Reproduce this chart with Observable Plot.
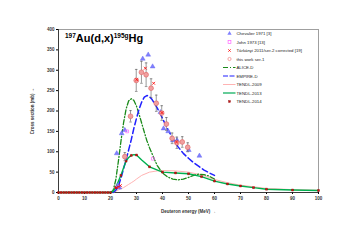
<!DOCTYPE html>
<html><head><meta charset="utf-8">
<script src="https://cdn.jsdelivr.net/npm/d3@7"></script>
<script src="https://cdn.jsdelivr.net/npm/@observablehq/plot@0.6"></script>
<style>body{margin:0;background:#fff}</style>
</head><body><div id="chart"></div>
<script>
const xTicks = [0,10,20,30,40,50,60,70,80,90,100];
const yTicks = [0,50,100,150,200,250,300,350,400];

// Chevalier 1971 [3]
const chevE = [22.4,22.8,23.4,24.3,25.5,32.4,34.5,36.2,39.2,40.4,42.2,44.0,45.6,50.1,54.2];
const chevS = [96,17,12,145,153,328,338,309,197,157,150,128,128,104,90];
// John 1973 [13]
const johnE = [26.4,36.3];
const johnS = [150,83];
// Tárkányi 2011/ser-2 corrected [19]
const tarkE = [22.3,23.0,23.8,30.1,33.4,36.6,39.8,45.4];
const tarkS = [12,14,17,277,305,268,196,124];
// this work ser-1
const workE = [25.5,27.7,29.9,31.9,33.7,35.6,37.6,39.7,41.5,43.7,45.5,47.6,49.7];
const workS = [88,187,275,295,289,256,219,195,168,133,122,124,111];
const workErr = [10,14,27,27,29,23,20,18,16,13,14,13,11];
// ALICE-D
const aliceE = [20,21,22,23,24,25,26,27,28,29,30,31,32,33,34,35,36,37,38,40,42,44,46,48,50,52,54,56,58,60];
const aliceS = [0,5,30,75,125,170,205,225,230,226,212,192,170,148,127,110,95,80,66,48,38,33,31,33,37,42,45,44,40,33];
// EMPIRE-D
const empE = [21,22,23,24,25,26,27,28,29,30,31,32,33,34,35,36,37,38,39,40,42,44,46,48,50,52,54,56,58,60];
const empS = [0,5,15,35,58,80,105,130,158,182,205,222,234,238,235,228,218,207,195,182,155,132,112,96,84,73,64,55,48,42];
// TENDL-2009
const t09E = [21,22,23,24,25,26,27,28,29,30,32,35,38,40,45,50,55,60,65,70,75,80,90,100];
const t09S = [0,3,6,9,12,16,20,24,28,33,42,50,53,54,53,50,43,32,24,18,14,10,7,5.5];
// TENDL-2013
const t13E = [0,20,21,22,23,24,25,26,27,28,29,30,32,35,40,45,50,55,60,65,70,75,80,90,100];
const t13S = [0,0,3,12,27,42,60,77,86,91,93,92,80,63,50,48,46,39,28,21,16,12,8,6,5];
// TENDL-2014
const t14E = [0,1,2,3,4,5,6,7,8,9,10,11,12,13,14,15,16,17,18,19,20,22,24,26,28,30,35,40,45,50,55,60,65,70,75,80,90,100];
const t14S = [0,0,0,0,0,0,0,0,0,0,0,0,0,0,0,0,0,0,0,0,0,12,42,77,91,92,63,50,48,46,39,28,21,16,12,8,6,5];

const legendLabels = ["Chevalier 1971 [3]","John 1973 [13]","Tárkányi 2011/ser-2 corrected [19]","this work ser-1","ALICE-D","EMPIRE-D","TENDL-2009","TENDL-2013","TENDL-2014"];

const zip = (E,S) => E.map((e,i)=>({E:e,S:S[i]}));
const chev = zip(chevE,chevS), john = zip(johnE,johnS), tark = zip(tarkE,tarkS);
const work = workE.map((e,i)=>({E:e,S:workS[i],err:workErr[i]}));
const alice = zip(aliceE,aliceS), emp = zip(empE,empS), t09 = zip(t09E,t09S), t13 = zip(t13E,t13S), t14 = zip(t14E,t14S);

const plot = Plot.plot({
  width: 351, height: 248,
  marginLeft: 58, marginRight: 33, marginTop: 29, marginBottom: 56,
  style: {fontFamily: "Liberation Sans, Arial, sans-serif", fontSize: "4.5px", background: "#fff"},
  x: {domain: [0,100]},
  y: {domain: [0,400]},
  marks: [
    Plot.frame({stroke: "#888", strokeWidth: 0.8}),
    Plot.axisX({ticks: xTicks, tickSize: 2, tickPadding: 2, fontWeight: "bold", fill: "#333",
      label: "Deuteron energy (MeV)", labelAnchor: "center", labelOffset: 20}),
    Plot.axisY({ticks: yTicks, tickSize: 2, tickPadding: 2, fontWeight: "bold", fill: "#333",
      label: "Cross section (mb)", labelAnchor: "center", labelOffset: 28}),
    Plot.ruleY([0], {stroke: "#222", strokeWidth: 0.8}),
    Plot.ruleX([0], {stroke: "#222", strokeWidth: 0.8}),
    Plot.line(t09, {x: "E", y: "S", stroke: "#ffb3b3", strokeWidth: 1}),
    Plot.line(alice, {x: "E", y: "S", stroke: "#1a8a1a", strokeWidth: 1.3, strokeDasharray: "5,2,1,2"}),
    Plot.line(emp, {x: "E", y: "S", stroke: "#2020ff", strokeWidth: 1.5, strokeDasharray: "6,3"}),
    Plot.line(t13, {x: "E", y: "S", stroke: "#00b050", strokeWidth: 1.4}),
    Plot.dot(t14, {x: "E", y: "S", symbol: "square", r: 1.1, fill: "#e01010", stroke: "#7a0000", strokeWidth: 0.4}),
    Plot.dot(chev, {x: "E", y: "S", symbol: "triangle", r: 1.8, fill: "#8080ff", stroke: "#6060ee", strokeWidth: 0.4}),
    Plot.dot(john, {x: "E", y: "S", symbol: "square", r: 1.6, fill: "none", stroke: "#ff66ff", strokeWidth: 0.7}),
    Plot.ruleX(work, {x: "E", y1: d => d.S - d.err, y2: d => d.S + d.err, stroke: "#555", strokeWidth: 0.6}),
    Plot.link(work, {x1: d => d.E - 0.5, x2: d => d.E + 0.5, y1: d => d.S + d.err, y2: d => d.S + d.err, stroke: "#555", strokeWidth: 0.6}),
    Plot.link(work, {x1: d => d.E - 0.5, x2: d => d.E + 0.5, y1: d => d.S - d.err, y2: d => d.S - d.err, stroke: "#555", strokeWidth: 0.6}),
    Plot.dot(work, {x: "E", y: "S", r: 2.4, fill: "#f0a0a0", stroke: "#e06060", strokeWidth: 0.6}),
    Plot.dot(tark, {x: "E", y: "S", symbol: "times", r: 1.4, stroke: "#ff0000", strokeWidth: 0.8})
  ]
});
document.getElementById("chart").appendChild(plot);

// title & legend
const svg = d3.select(plot);
const t = svg.append("text").attr("x", 65).attr("y", 42).attr("text-anchor", "start")
  .attr("font-family", "Liberation Sans, Arial, sans-serif").attr("font-weight", "bold").attr("fill", "#000");
t.append("tspan").attr("font-size", 6.5).attr("dy", -4).text("197");
t.append("tspan").attr("font-size", 11).attr("dy", 4).text("Au(d,x)");
t.append("tspan").attr("font-size", 6.5).attr("dy", -4).text("195g");
t.append("tspan").attr("font-size", 11).attr("dy", 4).text("Hg");

const legendStyles = [
  {type: "tri"}, {type: "sq"}, {type: "x"}, {type: "circ"},
  {type: "line", stroke: "#1a8a1a", dash: "5,2,1,2", w: 1.2},
  {type: "line", stroke: "#6a6aff", dash: "5,1.5", w: 1.6},
  {type: "line", stroke: "#ffb3b3", dash: null, w: 1},
  {type: "line", stroke: "#40c080", dash: null, w: 1.6},
  {type: "dot"}
];
const lg = svg.append("g").attr("font-family", "Liberation Sans, Arial, sans-serif").attr("font-size", 4.3).attr("fill", "#222").attr("text-anchor", "start");
legendLabels.forEach((label, i) => {
  const it = legendStyles[i];
  const y = 33.5 + i * 8.5;
  const sx = 229.5;
  if (it.type === "tri") lg.append("path").attr("d", d3.symbol(d3.symbolTriangle, 8)()).attr("transform", `translate(${sx},${y})`).attr("fill", "#8080ff");
  if (it.type === "sq") lg.append("rect").attr("x", sx - 1.4).attr("y", y - 1.4).attr("width", 2.8).attr("height", 2.8).attr("fill", "none").attr("stroke", "#ff66ff").attr("stroke-width", 0.7);
  if (it.type === "x") lg.append("path").attr("d", `M${sx-1.2},${y-1.2}L${sx+1.2},${y+1.2}M${sx-1.2},${y+1.2}L${sx+1.2},${y-1.2}`).attr("stroke", "#ff0000").attr("stroke-width", 0.8);
  if (it.type === "circ") lg.append("circle").attr("cx", sx).attr("cy", y).attr("r", 1.6).attr("fill", "none").attr("stroke", "#f08080").attr("stroke-width", 0.7);
  if (it.type === "line") lg.append("line").attr("x1", 223).attr("x2", 235.5).attr("y1", y).attr("y2", y).attr("stroke", it.stroke).attr("stroke-width", it.w).attr("stroke-dasharray", it.dash);
  if (it.type === "dot") lg.append("rect").attr("x", sx - 1).attr("y", y - 1).attr("width", 2).attr("height", 2).attr("fill", "#c01010").attr("stroke", "#7a0000").attr("stroke-width", 0.3);
  lg.append("text").attr("x", 236.5).attr("y", y).attr("dy", "0.35em").text(label);
});
</script>
</body></html>
